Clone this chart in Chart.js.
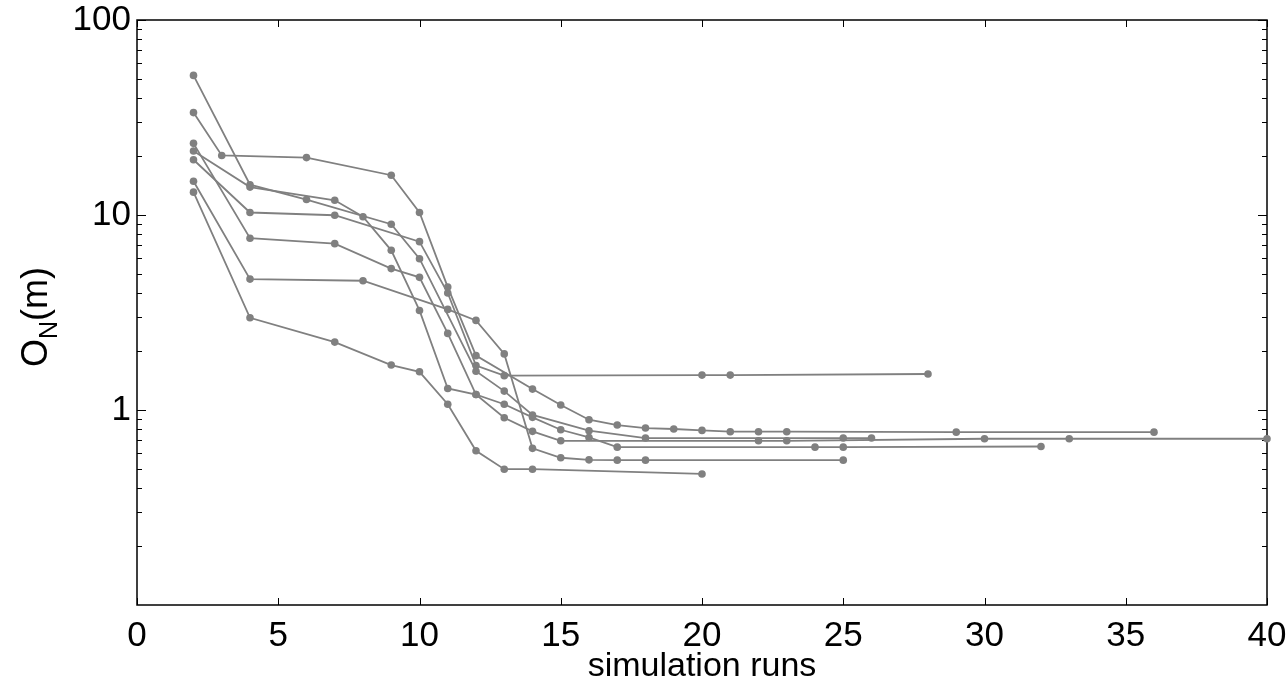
<!DOCTYPE html>
<html lang="en">
<head>
  <meta charset="UTF-8">
  <title>O_N versus simulation runs</title>
  <script src="https://cdn.jsdelivr.net/npm/chart.js"></script>
  <style>
    body {
      margin: 0;
      background: #ffffff;
    }
    #wrap {
      width: 1287px;
      height: 682px;
    }
  </style>
</head>
<body>
  <div id="wrap">
    <canvas id="chart" width="1287" height="682"></canvas>
  </div>

  <script>
    // each run: x = simulation run number, y = O_N in metres
    const runs1 = [2, 4, 6, 9, 10, 12, 13, 14, 16, 18, 25, 26];
    const on1   = [52, 14.3, 12.0, 8.97, 5.97, 1.58, 1.25, 0.943, 0.783, 0.718, 0.718, 0.718];

    const runs2 = [2, 3, 6, 9, 10, 11, 12, 14, 15, 16, 17, 18, 19, 20, 21, 22, 23, 29, 36];
    const on2   = [33.5, 20.2, 19.7, 16.0, 10.3, 4.27, 1.90, 1.28, 1.06, 0.892, 0.837, 0.808, 0.799, 0.786, 0.774, 0.774, 0.774, 0.77, 0.77];

    const runs3 = [2, 4, 7, 9, 10, 11, 12, 13, 14, 15, 16, 17, 24, 25, 32];
    const on3   = [23.3, 7.6, 7.13, 5.31, 4.79, 2.47, 1.20, 1.07, 0.917, 0.792, 0.723, 0.645, 0.645, 0.645, 0.65];

    const runs4 = [2, 4, 7, 8, 9, 10, 11, 12, 13, 14, 15, 22, 23, 30, 33, 40];
    const on4   = [21.3, 13.9, 11.9, 9.8, 6.59, 3.24, 1.29, 1.20, 0.913, 0.777, 0.695, 0.695, 0.695, 0.712, 0.712, 0.712];

    const runs5 = [2, 4, 7, 10, 11, 12, 13, 20, 21, 28];
    const on5   = [19.2, 10.3, 9.97, 7.3, 3.98, 1.69, 1.50, 1.51, 1.51, 1.53];

    const runs6 = [2, 4, 8, 11, 12, 13, 14, 15, 16, 17, 18, 25];
    const on6   = [14.9, 4.69, 4.6, 3.28, 2.88, 1.94, 0.636, 0.569, 0.555, 0.553, 0.553, 0.553];

    const runs7 = [2, 4, 7, 9, 10, 11, 12, 13, 14, 20];
    const on7   = [13.1, 2.97, 2.23, 1.70, 1.57, 1.07, 0.618, 0.497, 0.497, 0.47];

    const xTicks = [0, 5, 10, 15, 20, 25, 30, 35, 40];
    const yTicks = [1, 10, 100];
    const yMinorTicks = [0.2, 0.3, 0.4, 0.5, 0.6, 0.7, 0.8, 0.9,
                         2, 3, 4, 5, 6, 7, 8, 9,
                         20, 30, 40, 50, 60, 70, 80, 90];

    const lineGrey = '#808080';
    const fontFamily = "'Liberation Sans', Arial, sans-serif";

    function toPoints(xs, ys) {
      return xs.map((x, i) => ({ x: x, y: ys[i] }));
    }

    const allRuns = [
      [runs1, on1], [runs2, on2], [runs3, on3], [runs4, on4],
      [runs5, on5], [runs6, on6], [runs7, on7]
    ];

    // MATLAB-like box with inward ticks and the y title with a subscript
    const framePlugin = {
      id: 'frame',
      beforeDatasetsDraw(chart) {
        const ctx = chart.ctx;
        const a = chart.chartArea;
        const xs = chart.scales.x;
        const ys = chart.scales.y;
        ctx.save();
        ctx.strokeStyle = '#000';
        ctx.lineWidth = 1;
        ctx.beginPath();
        xTicks.forEach(v => {
          const px = Math.round(xs.getPixelForValue(v)) + 0.5;
          ctx.moveTo(px, a.bottom); ctx.lineTo(px, a.bottom - 7);
          ctx.moveTo(px, a.top); ctx.lineTo(px, a.top + 7);
        });
        yTicks.forEach(v => {
          const py = Math.round(ys.getPixelForValue(v)) + 0.5;
          ctx.moveTo(a.left, py); ctx.lineTo(a.left + 9, py);
          ctx.moveTo(a.right, py); ctx.lineTo(a.right - 9, py);
        });
        yMinorTicks.forEach(v => {
          const py = Math.round(ys.getPixelForValue(v)) + 0.5;
          ctx.moveTo(a.left, py); ctx.lineTo(a.left + 5, py);
          ctx.moveTo(a.right, py); ctx.lineTo(a.right - 5, py);
        });
        ctx.stroke();
        ctx.lineWidth = 1.5;
        ctx.strokeRect(a.left, a.top, a.right - a.left, a.bottom - a.top);
        ctx.restore();
      },
      afterDraw(chart) {
        const ctx = chart.ctx;
        const a = chart.chartArea;
        ctx.save();
        ctx.fillStyle = '#000';
        // x title
        ctx.font = '34px ' + fontFamily;
        ctx.textAlign = 'center';
        ctx.textBaseline = 'alphabetic';
        ctx.fillText('simulation runs', (a.left + a.right) / 2, 676);
        // y title: O with subscript N, then (m)
        ctx.translate(47, 367);
        ctx.rotate(-Math.PI / 2);
        ctx.textAlign = 'left';
        ctx.font = '36px ' + fontFamily;
        ctx.fillText('O', 0, 0);
        let w = ctx.measureText('O').width;
        ctx.font = '25px ' + fontFamily;
        ctx.fillText('N', w, 10);
        w += ctx.measureText('N').width;
        ctx.font = '36px ' + fontFamily;
        ctx.fillText('(m)', w, 0);
        ctx.restore();
      }
    };

    document.addEventListener('DOMContentLoaded', function () {
      const ctx = document.getElementById('chart').getContext('2d');

      new Chart(ctx, {
        type: 'scatter',
        data: {
          datasets: allRuns.map(([xs, ys], i) => ({
            label: 'run ' + (i + 1),
            data: toPoints(xs, ys),
            showLine: true,
            borderColor: lineGrey,
            backgroundColor: lineGrey,
            borderWidth: 1.8,
            pointRadius: 3.8,
            pointHoverRadius: 3.8,
            pointBorderWidth: 0,
            clip: false
          }))
        },
        options: {
          responsive: false,
          animation: false,
          layout: { padding: { left: 0, right: 20, top: 20, bottom: 0 } },
          plugins: {
            legend: { display: false },
            tooltip: { enabled: false }
          },
          scales: {
            x: {
              type: 'linear',
              min: 0,
              max: 40,
              afterBuildTicks: s => { s.ticks = xTicks.map(v => ({ value: v })); },
              afterFit: s => {
                s.height = 682 - 605;
                s.paddingLeft = 0;
                s.paddingRight = 0;
              },
              grid: { display: false, drawTicks: false },
              border: { display: false },
              ticks: {
                color: '#000',
                padding: 10,
                maxRotation: 0,
                font: { family: fontFamily, size: 35 }
              }
            },
            y: {
              type: 'logarithmic',
              min: 0.1,
              max: 100,
              afterBuildTicks: s => { s.ticks = yTicks.map(v => ({ value: v })); },
              afterFit: s => {
                s.width = 137;
                s.paddingTop = 0;
                s.paddingBottom = 0;
              },
              grid: { display: false, drawTicks: false },
              border: { display: false },
              ticks: {
                color: '#000',
                padding: 6,
                font: { family: fontFamily, size: 35 },
                callback: v => String(v)
              }
            }
          }
        },
        plugins: [framePlugin]
      });
    });
  </script>
</body>
</html>
